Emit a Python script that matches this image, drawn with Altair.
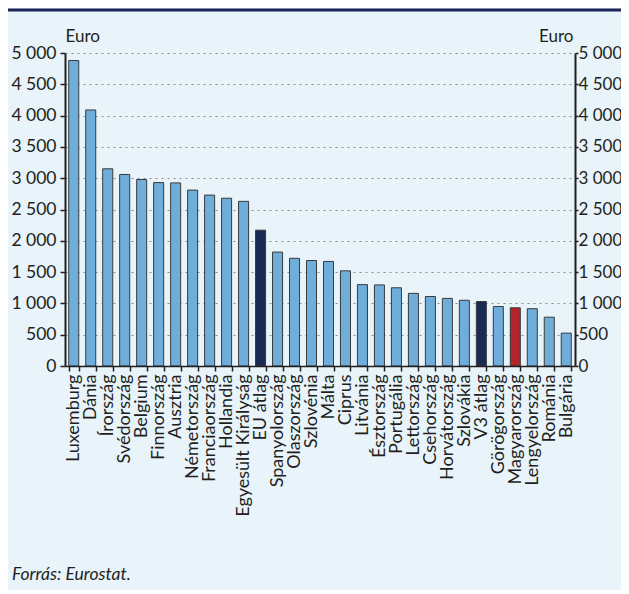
import altair as alt
import pandas as pd

categories = ["Luxemburg", "Dánia", "Írország", "Svédország", "Belgium", "Finnország",
              "Ausztria", "Németország", "Franciaország", "Hollandia", "Egyesült Királyság",
              "EU átlag", "Spanyolország", "Olaszország", "Szlovénia", "Málta", "Ciprus",
              "Litvánia", "Észtország", "Portugália", "Lettország", "Csehország",
              "Horvátország", "Szlovákia", "V3 átlag", "Görögország", "Magyarország",
              "Lengyelország", "Románia", "Bulgária"]
values = [4880, 4090, 3150, 3060, 2980, 2930, 2925, 2810, 2730, 2680, 2630,
          2170, 1820, 1720, 1685, 1670, 1520, 1300, 1295, 1250, 1160, 1110,
          1080, 1050, 1030, 950, 930, 915, 780, 525]
y_ticks = [0, 500, 1000, 1500, 2000, 2500, 3000, 3500, 4000, 4500, 5000]
unit_label = "Euro"
source_note = "Forrás: Eurostat."
avg_names = ["EU átlag", "V3 átlag"]
home_name = "Magyarország"

groups = ["avg" if c in avg_names else ("hu" if c == home_name else "base") for c in categories]
df = pd.DataFrame({"cat": categories, "val": values, "grp": groups})

FONT = "Lato"
TXT = "#231f20"
label_expr = "replace(format(datum.value, ','), ',', ' ')"

x_enc = alt.X("cat:N", sort=categories,
              scale=alt.Scale(paddingInner=0.41, paddingOuter=0.22),
              axis=alt.Axis(title=None, labelAngle=-90, labelAlign="right",
                            labelBaseline="middle", tickBand="extent", tickSize=5,
                            labelPadding=3, labelFontSize=18, labelFont=FONT,
                            labelColor=TXT, domainColor=TXT, domainWidth=1.5,
                            tickColor=TXT, tickWidth=1.5, zindex=1, grid=False))

color_enc = alt.Color("grp:N", scale=alt.Scale(domain=["base", "avg", "hu"],
                                               range=["#6FAEDB", "#1A2A55", "#B3242A"]),
                      legend=None)

left = alt.Chart(df).mark_bar(stroke="#3a3a3a", strokeWidth=1).encode(
    x=x_enc,
    y=alt.Y("val:Q", scale=alt.Scale(domain=[0, 5000], nice=False),
            axis=alt.Axis(values=y_ticks, orient="left", title=unit_label, titleAngle=0,
                          titleX=0, titleY=-8, titleAlign="left", titleBaseline="bottom",
                          titleFont=FONT, titleFontSize=17, titleFontWeight="normal",
                          titleColor=TXT, labelExpr=label_expr, labelFont=FONT,
                          labelFontSize=17.5, labelColor=TXT, labelPadding=4,
                          tickSize=5, tickColor=TXT, tickWidth=1.5,
                          domainColor=TXT, domainWidth=2, grid=True,
                          gridDash=[2, 4], gridColor="#8c8c8c", gridWidth=1.2)),
    color=color_enc,
)

right = alt.Chart(df).mark_bar(opacity=0).encode(
    x=x_enc,
    y=alt.Y("val:Q", scale=alt.Scale(domain=[0, 5000], nice=False),
            axis=alt.Axis(values=y_ticks, orient="right", title=unit_label, titleAngle=0,
                          titleX=-2, titleY=-8, titleAlign="right", titleBaseline="bottom",
                          titleFont=FONT, titleFontSize=17, titleFontWeight="normal",
                          titleColor=TXT, labelExpr=label_expr, labelFont=FONT,
                          labelFontSize=17, labelColor=TXT, labelPadding=0,
                          tickSize=3, tickColor=TXT, tickWidth=1.5,
                          domainColor=TXT, domainWidth=2, grid=False)),
)

top_line = alt.Chart(pd.DataFrame({"a": [0]})).mark_rule(
    color="#1B2557", strokeWidth=3).encode(
    x=alt.value(-57), x2=alt.value(556), y=alt.value(-43))

note = alt.Chart(pd.DataFrame({"t": [source_note]})).mark_text(
    align="left", baseline="alphabetic", font=FONT, fontSize=17.5,
    fontStyle="italic", color=TXT).encode(
    x=alt.value(-53), y=alt.value(527), text="t:N")

chart = alt.layer(left, right, top_line, note).resolve_scale(y="independent").properties(
    width=510, height=313, autosize="none",
    padding={"left": 57, "top": 45, "right": 46, "bottom": 224},
    background="#E8F3FA",
).configure_view(stroke=None)

chart.save("out.html", embed_options={"renderer": "svg", "actions": False})
